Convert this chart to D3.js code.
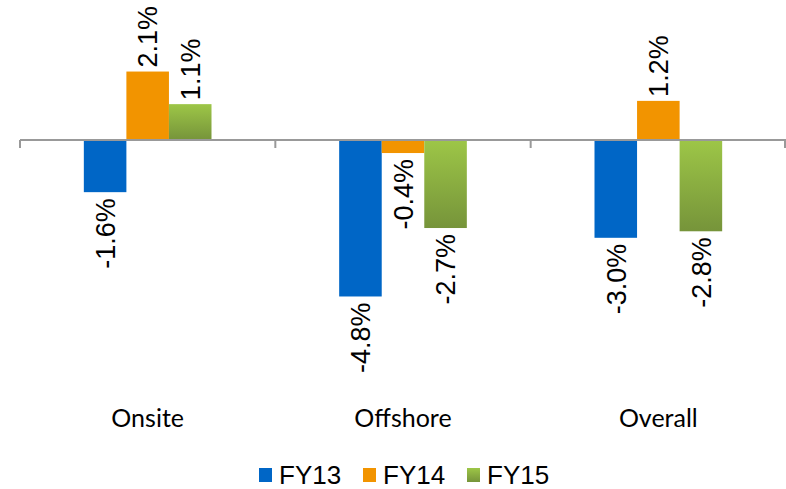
<!DOCTYPE html>
<html><head><meta charset="utf-8">
<script src="https://cdn.jsdelivr.net/npm/d3@7/dist/d3.min.js"></script>
<style>body{margin:0;background:#fff}svg{display:block}</style>
</head><body>
<svg id="chart" width="786" height="489"></svg>
<script>
const categories = ["Onsite", "Offshore", "Overall"];
const seriesNames = ["FY13", "FY14", "FY15"];
const fy13 = [-1.6, -4.8, -3.0];
const fy14 = [2.1, -0.4, 1.2];
const fy15 = [1.1, -2.7, -2.8];
const seriesValues = [fy13, fy14, fy15];

const svg = d3.select("#chart");
const defs = svg.append("defs");
const g15 = defs.append("linearGradient").attr("id","gFY15").attr("x1",0).attr("y1",0).attr("x2",0).attr("y2",1);
g15.append("stop").attr("offset","0%").attr("stop-color","#9dc647");
g15.append("stop").attr("offset","100%").attr("stop-color","#76943a");
const fills = ["#0066c6", "#f29400", "url(#gFY15)"];

const x = d3.scaleBand().domain(categories).range([20, 786]).paddingInner(0).paddingOuter(0);
const groupW = x.bandwidth() * 0.5;
const xs = d3.scaleBand().domain(seriesNames).range([0, groupW]).padding(0);
const y = d3.scaleLinear().domain([-5, 2.5]).range([140 + 5 * 32.6, 140 - 2.5 * 32.6]);

const data = [];
categories.forEach((c, i) => seriesNames.forEach((s, j) => data.push({c, s, j, v: seriesValues[j][i]})));

const bx = d => x(d.c) + (x.bandwidth() - groupW) / 2 + xs(d.s);

svg.append("g").selectAll("rect").data(data).join("rect")
  .attr("x", d => bx(d))
  .attr("y", d => y(Math.max(0, d.v)))
  .attr("width", xs.bandwidth())
  .attr("height", d => Math.abs(y(d.v) - y(0)))
  .attr("fill", d => fills[d.j]);

// axis
const axisG = svg.append("g").attr("transform", `translate(0,${y(0)})`);
axisG.append("line").attr("x1", 20).attr("x2", 786).attr("y1", 0).attr("y2", 0)
  .attr("stroke", "#999").attr("stroke-width", 2);
const tickPos = categories.map(c => x(c)).concat([x(categories[categories.length-1]) + x.bandwidth()]);
axisG.selectAll("line.tick").data(tickPos).join("line").attr("class","tick")
  .attr("x1", d => Math.min(d, 785)).attr("x2", d => Math.min(d, 785))
  .attr("y1", 0).attr("y2", 8).attr("stroke", "#999").attr("stroke-width", 2);

// data labels
svg.append("g").selectAll("text").data(data).join("text")
  .attr("transform", d => {
    const cx = bx(d) + xs.bandwidth() / 2;
    const yy = d.v >= 0 ? y(d.v) - 4 : y(d.v) + 6;
    return `translate(${cx},${yy}) rotate(-90)`;
  })
  .attr("text-anchor", d => d.v >= 0 ? "start" : "end")
  .attr("dy", "0.36em")
  .attr("font-family", "'Liberation Sans', Arial, sans-serif")
  .attr("font-size", 27)
  .attr("fill", "#000")
  .text(d => d.v.toFixed(1) + "%");

// category labels
svg.append("g").selectAll("text").data(categories).join("text")
  .attr("x", d => x(d) + x.bandwidth() / 2)
  .attr("y", 427)
  .attr("text-anchor", "middle")
  .attr("font-family", "Lato, 'Open Sans', sans-serif")
  .attr("font-size", 25)
  .attr("fill", "#000")
  .text(d => d);

// legend
const leg = svg.append("g").attr("transform", "translate(259,468)");
const li = leg.selectAll("g").data(seriesNames).join("g").attr("transform", (d, i) => `translate(${i * 104},0)`);
li.append("rect").attr("width", 13).attr("height", 14).attr("fill", (d, i) => fills[i]);
li.append("text").attr("x", 20).attr("y", 15.5)
  .attr("font-family", "'Liberation Sans', Arial, sans-serif")
  .attr("font-size", 26).attr("fill", "#000").text(d => d);
</script>
</body></html>
